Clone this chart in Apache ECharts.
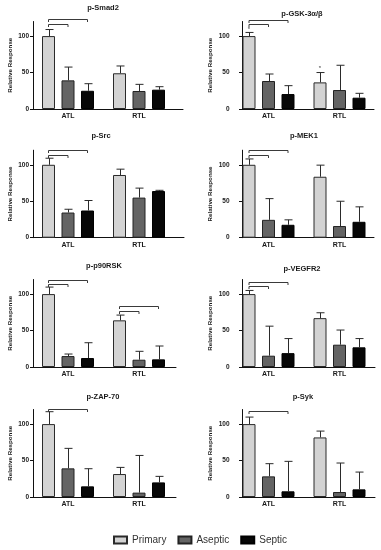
<!DOCTYPE html>
<html><head><meta charset="utf-8">
<script src="https://cdn.jsdelivr.net/npm/echarts@6/dist/echarts.min.js"></script>
<style>html,body{margin:0;padding:0;background:#fff}#c{width:381px;height:550px}</style>
</head><body><div id="c"></div>
<script>
// ---- data ----
const categories = ['ATL', 'RTL'];
const seriesNames = ['Primary', 'Aseptic', 'Septic'];
const panelTitles = ['p-Smad2', 'p-GSK-3α/β', 'p-Src', 'p-MEK1', 'p-p90RSK', 'p-VEGFR2', 'p-ZAP-70', 'p-Syk'];
const yAxisName = 'Relative Response';
const yTicks = [0, 50, 100];
// means [ATL, RTL] per panel
const primaryMeans = [[100, 49], [100, 36.5], [100, 86], [100, 83.6], [100, 64], [100, 67], [100, 31.5], [100, 81.7]];
const asepticMeans = [[39.3, 24.7], [38.4, 26], [34.5, 55], [24.5, 16], [15, 10], [15.5, 30.6], [39.3, 6], [28.3, 6.8]];
const septicMeans = [[25, 26.5], [20.5, 15.5], [37.3, 64], [17.7, 21.8], [12.3, 10.5], [19, 27], [14.6, 20], [7.8, 10.5]];
// upper end of the error bar [ATL, RTL] per panel
const primaryErrTop = [[109, 59], [105, 50], [109, 94], [108, 99.5], [109.6, 71.2], [105, 74.4], [117, 40.6], [109.6, 90.4]];
const asepticErrTop = [[57.5, 33.8], [48, 60], [39, 68], [53.6, 50], [17.8, 21.5], [56, 50.7], [66.7, 57], [45.7, 46.6]];
const septicErrTop = [[34.7, 30.6], [32, 21.5], [51, 65], [24.5, 42.3], [33.3, 28.8], [39, 39], [38.8, 28.3], [48.9, 34.2]];
// significance brackets: [panel, category, fromSeries, toSeries, level]
const brackets = [
  [0, 0, 0, 2, 124], [0, 0, 0, 1, 117],
  [1, 0, 0, 2, 122], [1, 0, 0, 1, 116.5],
  [2, 0, 0, 2, 120.5], [2, 0, 0, 1, 114],
  [3, 0, 0, 2, 120], [3, 0, 0, 1, 113.6],
  [4, 0, 0, 2, 119.6], [4, 0, 0, 1, 114], [4, 1, 0, 2, 83], [4, 1, 0, 1, 77],
  [5, 0, 0, 2, 116], [5, 0, 0, 1, 111],
  [6, 0, 0, 2, 120.5],
  [7, 0, 0, 2, 117.8]
];
// asterisks: [panel, category, series, level]
const stars = [[1, 0, 0, 109.5], [1, 1, 0, 56]];

// ---- styles / layout ----
const FONT = 'Liberation Sans, Arial, sans-serif';
const barColors = ['#d3d3d3', '#646464', '#070707'];
const barBorders = ['#2a2a2a', '#222222', '#000000'];
const BAR_W = 13, BAR_GAP = 0.5, STEP = BAR_W * (1 + BAR_GAP), CAP = 4;
const rowTop = [21.5, 150.2, 279.5, 409.5];
const GRID_H = 87.5;
const barGridLeft = [32.5, 233];
const axisLeft = [33, 242];
const axisRight = [183, 374, 184, 374, 176, 375, 176, 375];
const titlePos = [[103, 4], [302, 10], [101, 132], [304, 132], [104, 262], [302, 265], [103, 393], [303, 393]];
const labelMargin = [4, 12.5];
const nameGap = [20, 29];

const allMeans = [primaryMeans, asepticMeans, septicMeans];
const allErr = [primaryErrTop, asepticErrTop, septicErrTop];

const grid = [], xAxis = [], yAxis = [], series = [], title = [];
for (let p = 0; p < 8; p++) {
  const col = p % 2, row = Math.floor(p / 2);
  // bar grid
  grid.push({left: barGridLeft[col], top: rowTop[row], width: 142, height: GRID_H});
  // axis grid
  grid.push({left: axisLeft[col], top: rowTop[row], width: axisRight[p] - axisLeft[col], height: GRID_H});
  const gb = 2 * p, ga = 2 * p + 1;
  xAxis.push({
    gridIndex: gb, type: 'category', data: categories,
    axisLine: {show: false}, axisTick: {show: false},
    axisLabel: {fontFamily: FONT, fontSize: 7, fontWeight: 'bold', color: '#1a1a1a', margin: 4}
  });
  xAxis.push({
    gridIndex: ga, type: 'value', min: 0, max: 1,
    axisLine: {show: true, lineStyle: {color: '#111', width: 1}},
    axisTick: {show: false}, axisLabel: {show: false}, splitLine: {show: false}
  });
  yAxis.push({gridIndex: gb, type: 'value', min: 0, max: 120, show: false, splitLine: {show: false}});
  yAxis.push({
    gridIndex: ga, type: 'value', min: 0, max: 120, interval: 50,
    name: yAxisName, nameLocation: 'middle', nameGap: nameGap[col], nameRotate: 90,
    nameTextStyle: {fontFamily: FONT, fontSize: 6.2, fontWeight: 'bold', color: '#1a1a1a'},
    axisLine: {show: true, lineStyle: {color: '#111', width: 1}},
    axisTick: {show: true, length: 3, customValues: yTicks, lineStyle: {color: '#111'}},
    axisLabel: {customValues: yTicks, margin: labelMargin[col], fontFamily: FONT, fontSize: 6.5, fontWeight: 'bold', color: '#1a1a1a',
      formatter: v => (yTicks.indexOf(v) >= 0 ? String(v) : '')},
    splitLine: {show: false}
  });
  title.push({
    text: panelTitles[p], left: titlePos[p][0], top: titlePos[p][1], textAlign: 'center', padding: 0,
    textStyle: {fontFamily: FONT, fontSize: 7.5, fontWeight: 'bold', color: '#1a1a1a'}
  });
  for (let s = 0; s < 3; s++) {
    series.push({
      type: 'bar', name: seriesNames[s], xAxisIndex: gb, yAxisIndex: gb,
      data: allMeans[s][p], barWidth: BAR_W, barGap: (BAR_GAP * 100) + '%',
      itemStyle: {color: barColors[s], borderColor: barBorders[s], borderWidth: 1},
      z: 2
    });
  }
  // error bars
  const errData = [];
  for (let s = 0; s < 3; s++) for (let c = 0; c < 2; c++) errData.push([c, s, allMeans[s][p][c], allErr[s][p][c]]);
  series.push({
    type: 'custom', xAxisIndex: gb, yAxisIndex: gb, data: errData, z: 3, silent: true,
    encode: {x: 0, y: 3},
    renderItem: (params, api) => {
      const c = api.value(0), s = api.value(1);
      const b = api.coord([c, api.value(2)]), t = api.coord([c, api.value(3)]);
      const x = Math.round(b[0] + (s - 1) * STEP) + 0.5;
      const st = {stroke: '#2a2a2a', lineWidth: 1};
      return {type: 'group', children: [
        {type: 'line', shape: {x1: x, y1: b[1], x2: x, y2: t[1]}, style: st},
        {type: 'line', shape: {x1: x - CAP, y1: t[1], x2: x + CAP, y2: t[1]}, style: st}
      ]};
    }
  });
  // brackets
  const brData = brackets.filter(b => b[0] === p).map(b => [b[1], b[2], b[3], b[4]]);
  series.push({
    type: 'custom', xAxisIndex: gb, yAxisIndex: gb, data: brData, z: 3, silent: true, clip: false,
    encode: {x: 0, y: 3},
    renderItem: (params, api) => {
      const c = api.value(0);
      const pt = api.coord([c, api.value(3)]);
      const x1 = pt[0] + (api.value(1) - 1) * STEP, x2 = pt[0] + (api.value(2) - 1) * STEP;
      const y = Math.round(pt[1]) + 0.5;
      return {type: 'polyline', shape: {points: [[x1, y + 2.5], [x1, y], [x2, y], [x2, y + 2.5]]},
        style: {stroke: '#3a3a3a', lineWidth: 1, fill: null}};
    }
  });
  const stData = stars.filter(s => s[0] === p).map(s => [s[1], s[2], s[3]]);
  if (stData.length) {
    series.push({
      type: 'custom', xAxisIndex: gb, yAxisIndex: gb, data: stData, z: 3, silent: true, clip: false,
      encode: {x: 0, y: 2},
      renderItem: (params, api) => {
        const pt = api.coord([api.value(0), api.value(2)]);
        return {type: 'text', x: pt[0] + (api.value(1) - 1) * STEP, y: pt[1],
          style: {text: '*', fontSize: 6, fontFamily: FONT, fill: '#333', align: 'center', verticalAlign: 'middle'}};
      }
    });
  }
}

const chart = echarts.init(document.getElementById('c'), null, {renderer: 'canvas'});
chart.setOption({
  animation: false,
  backgroundColor: '#fff',
  title, grid, xAxis, yAxis, series,
  legend: {
    data: seriesNames, left: 113, top: 535, padding: 0, icon: 'rect',
    itemWidth: 13, itemHeight: 7, itemGap: 11,
    textStyle: {fontFamily: FONT, fontSize: 10, color: '#333'}
  }
});
</script></body></html>
